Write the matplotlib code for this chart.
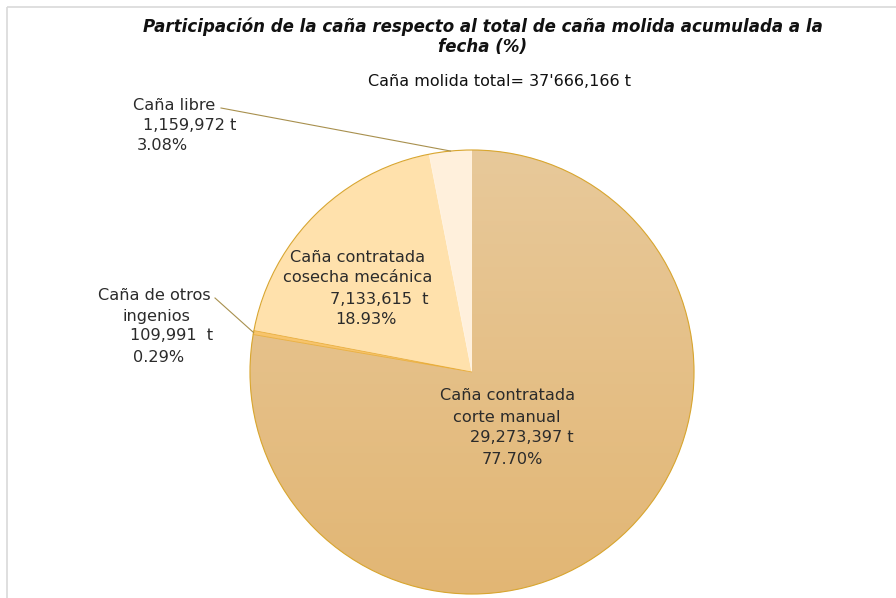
import matplotlib
matplotlib.use("Agg")
import matplotlib.pyplot as plt
import numpy as np
from matplotlib.patches import Circle

# ---- data ----
categories = ["Caña contratada\ncorte manual", "Caña de otros\ningenios",
              "Caña contratada\ncosecha mecánica", "Caña libre"]
tonnes = [29273397, 109991, 7133615, 1159972]
percent = [77.70, 0.29, 18.93, 3.08]
total_label = "37'666,166"
colors = ["#E6C08A", "#F7C46C", "#FFE1AC", "#FFF0DC"]

plt.rcParams['font.family'] = ['DejaVu Sans']

W, H = 896, 598
fig = plt.figure(figsize=(W / 100, H / 100), dpi=100)
ax = fig.add_axes([0, 0, 1, 1])

cx, cy, R = 472, H - 372, 222
wedges, _ = ax.pie(percent, colors=colors, startangle=90, counterclock=False,
                   center=(cx, cy), radius=R, frame=True,
                   wedgeprops=dict(edgecolor="#FFF3E0", linewidth=0.6))
ax.set_xlim(0, W)
ax.set_ylim(0, H)
ax.set_aspect('equal')
ax.axis('off')

# frame lines (top & left)
ax.plot([7, W], [H - 7, H - 7], color="#D9D9D9", lw=1.2, solid_capstyle='butt')
ax.plot([7, 7], [0, H - 7], color="#D9D9D9", lw=1.2, solid_capstyle='butt')

# gradient on main slice
grad = np.linspace(0, 1, 256).reshape(-1, 1)
top = np.array([0xE8, 0xC9, 0x9A]) / 255
bot = np.array([0xE2, 0xB6, 0x74]) / 255
img = top[None, None, :] * (1 - grad[:, :, None]) + bot[None, None, :] * grad[:, :, None]
im = ax.imshow(img, extent=(cx - R, cx + R, cy - R, cy + R), origin='upper',
               aspect='auto', zorder=wedges[0].get_zorder() + 0.1)
im.set_clip_path(wedges[0])
wedges[1].set_zorder(wedges[0].get_zorder() + 0.2)
wedges[1].set_edgecolor("#E9AE3C")

# outer gold outline
ax.add_patch(Circle((cx, cy), R, fill=False, edgecolor="#D8A630", lw=0.8, zorder=5))

# titles
tfs = 12
ax.text(483, H - 27, "Participación de la caña respecto al total de caña molida acumulada a la",
        ha='center', va='center', fontsize=tfs, fontweight='bold', fontstyle='italic', color="#111111")
ax.text(483, H - 47, "fecha (%)", ha='center', va='center', fontsize=tfs,
        fontweight='bold', fontstyle='italic', color="#111111")
ax.text(500, H - 81, f"Caña molida total= {total_label} t", ha='center', va='center',
        fontsize=11.5, color="#111111")

def fmt(v):
    return f"{v:,}"

# label layouts (left x, y for each line) in image pixels
layouts = [
    [(440, 396), (453, 417), (470, 438), (482, 459)],
    [(98, 296), (122, 316), (130, 336), (133, 357)],
    [(290, 257), (283, 278), (330, 299), (335, 320)],
    [(133, 105), (143, 126), (137, 146)],
]
gaps = [" ", "  ", "  ", " "]
txtc = "#2B2B2B"
fs = 11.6
for i, (cat, t, p) in enumerate(zip(categories, tonnes, percent)):
    lines = cat.split("\n") + [f"{fmt(t)}{gaps[i]}t", f"{p:.2f}%"]
    for line, (x, y) in zip(lines, layouts[i]):
        ax.text(x, H - y, line, ha='left', va='center', fontsize=fs, color=txtc, zorder=6)

# leader lines for small slices
def edge_point(idx):
    w = wedges[idx]
    a = np.deg2rad((w.theta1 + w.theta2) / 2)
    return cx + R * np.cos(a), cy + R * np.sin(a)

for idx, (sx, sy) in [(3, (221, 108)), (1, (215, 298))]:
    ex, ey = edge_point(idx)
    ax.plot([sx, ex], [H - sy, ey], color="#A8904E", lw=0.8, zorder=6)

fig.savefig("out.png", dpi=100)
